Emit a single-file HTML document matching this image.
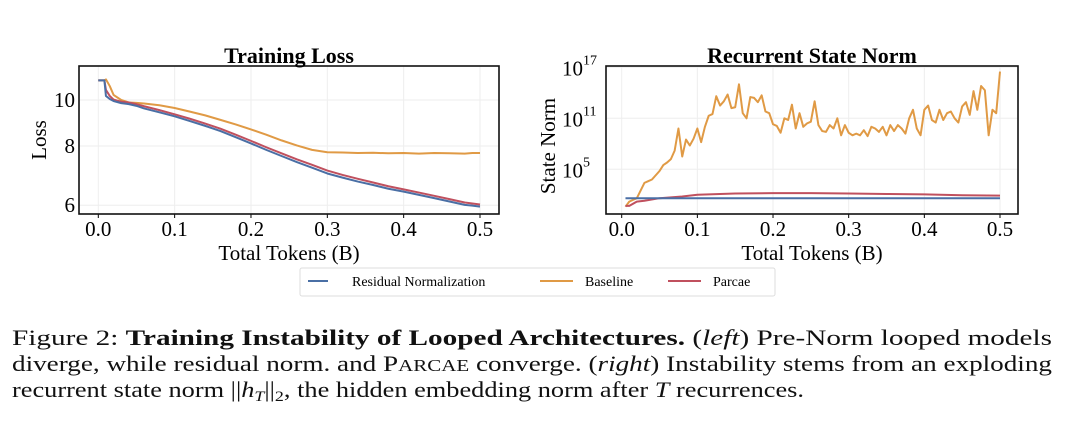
<!DOCTYPE html>
<html><head><meta charset="utf-8">
<style>
html,body{margin:0;padding:0;background:#fff;width:1080px;height:427px;overflow:hidden}
svg{display:block;font-family:"Liberation Serif",serif}
</style></head>
<body>
<svg id="fig" width="1080" height="427" viewBox="0 0 1080 427">
  <g id="left"></g>
  <g id="right"></g>
  <g>
    <rect x="300" y="268" width="475" height="28" fill="#fff" stroke="#ddd" stroke-width="1" rx="2"/>
    <line x1="308" y1="281" x2="328" y2="281" stroke="#4a6fa5" stroke-width="2"/>
    <text x="352" y="286" font-size="14">Residual Normalization</text>
    <line x1="540" y1="281" x2="573" y2="281" stroke="#e09a45" stroke-width="2"/>
    <text x="585" y="286" font-size="14">Baseline</text>
    <line x1="668" y1="281" x2="701" y2="281" stroke="#c0505e" stroke-width="2"/>
    <text x="713" y="286" font-size="14">Parcae</text>
  </g>
  <g font-size="22" fill="#111">
    <text x="12" y="345" textLength="1040" lengthAdjust="spacingAndGlyphs">Figure 2: <tspan font-weight="bold">Training Instability of Looped Architectures.</tspan> (<tspan font-style="italic">left</tspan>) Pre-Norm looped models</text>
    <text x="12" y="371" textLength="1040" lengthAdjust="spacingAndGlyphs">diverge, while residual norm. and P<tspan font-size="17">ARCAE</tspan> converge. (<tspan font-style="italic">right</tspan>) Instability stems from an exploding</text>
    <text x="12" y="397" textLength="792" lengthAdjust="spacingAndGlyphs">recurrent state norm ||<tspan font-style="italic">h</tspan><tspan font-style="italic" font-size="15" dy="4">T</tspan><tspan dy="-4">||</tspan><tspan font-size="15" dy="4">2</tspan><tspan dy="-4">, the hidden embedding norm after </tspan><tspan font-style="italic">T</tspan> recurrences.</text>
  </g>
</svg>
<script>
// ---- Training loss data ----
const lossX = [0,0.008,0.01,0.015,0.02,0.03,0.04,0.05,0.06,0.08,0.1,0.12,0.14,0.16,0.18,0.2,0.22,0.24,0.26,0.28,0.3,0.32,0.34,0.36,0.38,0.4,0.42,0.44,0.46,0.48,0.49,0.5];
const lossBaseline = [11.0,11.0,11.05,10.7,10.25,10.0,9.88,9.86,9.83,9.75,9.62,9.45,9.28,9.08,8.88,8.67,8.45,8.22,8.02,7.85,7.76,7.75,7.73,7.74,7.72,7.73,7.71,7.73,7.72,7.71,7.73,7.73];
const lossParcae = [11.0,11.0,10.5,10.2,10.02,9.92,9.88,9.8,9.7,9.52,9.33,9.13,8.92,8.7,8.45,8.2,7.95,7.72,7.5,7.3,7.1,6.95,6.82,6.7,6.58,6.48,6.38,6.28,6.18,6.08,6.05,6.02];
const lossResidual = [11.0,11.0,10.2,10.05,9.95,9.85,9.8,9.72,9.6,9.42,9.24,9.03,8.82,8.6,8.35,8.1,7.85,7.62,7.4,7.2,7.0,6.86,6.73,6.62,6.5,6.41,6.31,6.21,6.11,6.01,5.99,5.96];
const lossTicksY = [6,8,10];
const ticksX = [0.0,0.1,0.2,0.3,0.4,0.5];

// ---- State norm data (log10 exponents), x = 0.005*(i+1) ----
const normBaseline = [0.6,1.2,1.4,1.6,2.5,3.4,3.6,3.8,4.3,4.8,5.5,5.8,6.2,7.2,9.8,6.5,8.5,7.8,8.6,9.8,8.2,10.0,11.3,11.5,13.6,12.5,13.0,13.8,12.2,12.3,15.0,11.6,11.0,13.5,13.4,12.9,13.7,11.8,11.6,10.3,10.1,9.3,11.0,10.8,12.6,9.8,11.6,10.0,10.4,10.6,13.0,10.2,9.5,9.4,10.2,9.8,11.0,9.0,10.2,9.3,9.0,9.2,9.0,9.6,8.9,10.0,9.8,9.4,10.0,9.0,10.2,9.5,10.2,9.8,9.2,11.0,12.0,9.8,9.0,12.0,12.5,10.8,10.5,12.0,10.8,11.6,11.8,11.0,10.5,12.4,12.9,11.4,14.2,12.0,14.8,14.3,9.0,12.0,11.6,16.5];
const normParcaeX = [0.005,0.01,0.02,0.03,0.05,0.08,0.1,0.15,0.2,0.25,0.3,0.35,0.4,0.45,0.5];
const normParcae = [0.7,0.7,1.2,1.3,1.6,1.8,2.0,2.15,2.2,2.2,2.15,2.1,2.05,1.95,1.9];
const normResidualX = [0.005,0.5];
const normResidual = [1.6,1.6];
const normTicksExp = [5,11,17];

const NS='http://www.w3.org/2000/svg';
function mk(parent,tag,attrs){const e=document.createElementNS(NS,tag);for(const k in attrs)e.setAttribute(k,attrs[k]);parent.appendChild(e);return e;}
const C={res:'#4a6fa5',base:'#e09a45',par:'#c0505e'};

// Left axes
const L={x0:79,x1:499,y0:66,y1:214};
const lx=t=>98.3+t*763.4;
const ly=v=>100+206*Math.log(10/v);
const lg=document.getElementById('left');
ticksX.forEach(t=>{
  const g=mk(lg,'line',{x1:lx(t),x2:lx(t),y1:L.y0,y2:L.y1,stroke:'#eee','stroke-width':1});
  
  
  const tk=mk(lg,'line',{x1:lx(t),x2:lx(t),y1:L.y1,y2:L.y1+4,stroke:'#000','stroke-width':1});
  
  
  const tx=mk(lg,'text',{x:lx(t),y:L.y1+22,'font-size':21,'text-anchor':'middle'});
  tx.textContent=t.toFixed(1);
  
  
});
lossTicksY.forEach(v=>{
  const g=mk(lg,'line',{x1:L.x0,x2:L.x1,y1:ly(v),y2:ly(v),stroke:'#eee','stroke-width':1});
  
  
  const tx=mk(lg,'text',{x:L.x0-4,y:ly(v)+7,'font-size':21,'text-anchor':'end'});
  tx.textContent=String(v);
  
  
});
function poly(parent,xs,ys,fx,fy,color,name){
  const p=mk(parent,'polyline',{points:xs.map((x,i)=>fx(x)+','+fy(ys[i])).join(' '),fill:'none',stroke:color,'stroke-width':2,'stroke-linejoin':'round'});
  
  
}
poly(lg,lossX,lossBaseline,lx,ly,C.base,'loss-line-baseline');
poly(lg,lossX,lossParcae,lx,ly,C.par,'loss-line-parcae');
poly(lg,lossX,lossResidual,lx,ly,C.res,'loss-line-residual');
let b=mk(lg,'rect',{x:L.x0,y:L.y0,width:L.x1-L.x0,height:L.y1-L.y0,fill:'none',stroke:'#111','stroke-width':1.6});


let t=mk(lg,'text',{x:289,y:63,'font-size':22,'font-weight':'bold','text-anchor':'middle'});t.textContent='Training Loss';


t=mk(lg,'text',{x:289,y:260,'font-size':21,'text-anchor':'middle'});t.textContent='Total Tokens (B)';


t=mk(lg,'text',{x:46,y:140,'font-size':21,'text-anchor':'middle',transform:'rotate(-90 46 140)'});t.textContent='Loss';



// Right axes
const R={x0:606,x1:1018,y0:66,y1:214};
const rx=t=>621.7+t*756.6;
const ry=e=>118.3+(11-e)*8.5;
const rg=document.getElementById('right');
ticksX.forEach(tv=>{
  const g=mk(rg,'line',{x1:rx(tv),x2:rx(tv),y1:R.y0,y2:R.y1,stroke:'#eee','stroke-width':1});
  
  
  const tk=mk(rg,'line',{x1:rx(tv),x2:rx(tv),y1:R.y1,y2:R.y1+4,stroke:'#000','stroke-width':1});
  
  
  const tx=mk(rg,'text',{x:rx(tv),y:R.y1+22,'font-size':21,'text-anchor':'middle'});
  tx.textContent=tv.toFixed(1);
  
  
});
normTicksExp.forEach(e=>{
  const g=mk(rg,'line',{x1:R.x0,x2:R.x1,y1:ry(e),y2:ry(e),stroke:'#eee','stroke-width':1});
  
  
  const tx=mk(rg,'text',{x:R.x0-23,y:ry(e)+8,'font-size':21,'text-anchor':'end'});
  tx.textContent='10';
  
  
  const sx=mk(rg,'text',{x:R.x0-23,y:ry(e)-3,'font-size':14,'text-anchor':'start'});
  sx.textContent=String(e);
  
  
});
const normX=normBaseline.map((_,i)=>0.005*(i+1));
poly(rg,normX,normBaseline,rx,ry,C.base,'norm-line-baseline');
poly(rg,normParcaeX,normParcae,rx,ry,C.par,'norm-line-parcae');
poly(rg,normResidualX,normResidual,rx,ry,C.res,'norm-line-residual');
b=mk(rg,'rect',{x:R.x0,y:R.y0,width:R.x1-R.x0,height:R.y1-R.y0,fill:'none',stroke:'#111','stroke-width':1.6});


t=mk(rg,'text',{x:812,y:63,'font-size':22,'font-weight':'bold','text-anchor':'middle'});t.textContent='Recurrent State Norm';


t=mk(rg,'text',{x:812,y:260,'font-size':21,'text-anchor':'middle'});t.textContent='Total Tokens (B)';


t=mk(rg,'text',{x:555,y:146,'font-size':21,'text-anchor':'middle',transform:'rotate(-90 555 146)'});t.textContent='State Norm';


</script>
</body></html>
